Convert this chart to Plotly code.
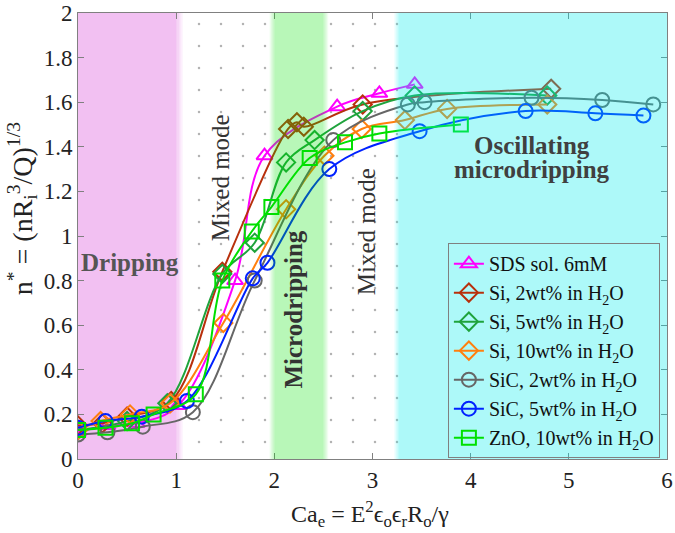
import plotly.graph_objects as go

# regime bands (Ca_e limits)
drip_x = [0.0, 1.0]
mixed1_x = [1.05, 2.0]
micro_x = [2.0, 2.5]
mixed2_x = [2.5, 3.27]
osc_x = [3.27, 6.0]

names = ["SDS sol. 6mM", "Si, 2wt% in H<sub>2</sub>O", "Si, 5wt% in H<sub>2</sub>O",
         "Si, 10wt% in H<sub>2</sub>O", "SiC, 2wt% in H<sub>2</sub>O",
         "SiC, 5wt% in H<sub>2</sub>O", "ZnO, 10wt% in H<sub>2</sub>O"]

sds_x = [0.0, 0.3, 0.6, 1.02, 1.6, 1.9, 2.64, 3.07, 3.43]
sds_y = [0.12, 0.15, 0.16, 0.24, 0.80, 1.36, 1.58, 1.64, 1.68]

si2_x = [0.0, 0.25, 0.5, 0.95, 1.47, 2.14, 2.23, 2.3, 2.9, 4.82]
si2_y = [0.15, 0.16, 0.19, 0.26, 0.84, 1.48, 1.51, 1.49, 1.59, 1.66]

si5_x = [0.0, 0.5, 0.91, 1.47, 1.8, 2.12, 2.41, 2.9, 3.43, 4.78]
si5_y = [0.13, 0.17, 0.25, 0.83, 0.97, 1.33, 1.43, 1.56, 1.63, 1.63]

si10_x = [0.0, 0.23, 0.53, 0.94, 1.48, 2.12, 2.51, 2.89, 3.33, 3.76, 4.78]
si10_y = [0.13, 0.17, 0.20, 0.25, 0.61, 1.12, 1.36, 1.48, 1.52, 1.57, 1.59]

sic2_x = [0.0, 0.3, 0.66, 1.17, 1.8, 2.6, 3.36, 3.53, 4.62, 5.34, 5.86]
sic2_y = [0.11, 0.12, 0.145, 0.21, 0.80, 1.43, 1.59, 1.60, 1.62, 1.61, 1.59]

sic5_x = [0.0, 0.28, 0.65, 1.11, 1.78, 1.93, 2.56, 3.48, 4.56, 5.27, 5.76]
sic5_y = [0.14, 0.17, 0.19, 0.26, 0.81, 0.88, 1.30, 1.47, 1.56, 1.55, 1.54]

zno_x = [0.0, 0.28, 0.55, 0.77, 1.2, 1.47, 1.77, 1.97, 2.36, 2.72, 3.07, 3.9]
zno_y = [0.13, 0.14, 0.16, 0.20, 0.29, 0.80, 1.02, 1.13, 1.35, 1.42, 1.46, 1.50]

series = [
    (sds_x, sds_y, "#ff00ff", "triangle-up-open"),
    (si2_x, si2_y, "#b8300c", "diamond-open"),
    (si5_x, si5_y, "#1fa33c", "diamond-open"),
    (si10_x, si10_y, "#ff7f0e", "diamond-open"),
    (sic2_x, sic2_y, "#666666", "circle-open"),
    (sic5_x, sic5_y, "#0022ff", "circle-open"),
    (zno_x, zno_y, "#00e000", "square-open"),
]

fig = go.Figure()

# dotted texture for the mixed-mode bands
fig.add_trace(go.Bar(
    x=[(mixed1_x[0] + mixed1_x[1]) / 2, (mixed2_x[0] + mixed2_x[1]) / 2],
    y=[2, 2], base=0,
    width=[mixed1_x[1] - mixed1_x[0], mixed2_x[1] - mixed2_x[0]],
    marker=dict(color="rgba(0,0,0,0)", line_width=0,
                pattern=dict(shape=".", fgcolor="#666666", bgcolor="rgba(0,0,0,0)",
                             size=22, solidity=0.01)),
    showlegend=False, hoverinfo="skip"))

for (xs, ys, col, sym), nm in zip(series, names):
    fig.add_trace(go.Scatter(
        x=xs, y=ys, name=nm, mode="lines+markers",
        line=dict(color=col, width=2, shape="spline", smoothing=1.0),
        marker=dict(symbol=sym, size=14, color=col, line=dict(width=2, color=col))))


def band(x0, x1, rgb, alpha, layer, edge=0.07, steps=5):
    # core rect plus soft edges
    fig.add_shape(type="rect", xref="x", yref="y", x0=x0, x1=x1, y0=0, y1=2,
                  fillcolor=f"rgba({rgb},{alpha})", line_width=0, layer=layer)
    for i in range(steps):
        a = alpha * (steps - i) / (steps + 1)
        w = edge / steps
        if x0 > 0:
            fig.add_shape(type="rect", xref="x", yref="y", x0=x0 - (i + 1) * w, x1=x0 - i * w,
                          y0=0, y1=2, fillcolor=f"rgba({rgb},{a})", line_width=0, layer=layer)
        if x1 < 6:
            fig.add_shape(type="rect", xref="x", yref="y", x0=x1 + i * w, x1=x1 + (i + 1) * w,
                          y0=0, y1=2, fillcolor=f"rgba({rgb},{a})", line_width=0, layer=layer)


band(drip_x[0], drip_x[1], "232,140,232", 0.55, "below")
band(micro_x[0], micro_x[1], "0,225,0", 0.28, "above", edge=0.05)
band(osc_x[0], osc_x[1], "0,235,235", 0.32, "above", edge=0.05)

serif = "Liberation Serif"
fig.add_annotation(x=0.53, y=0.88, text="<b>Dripping</b>", showarrow=False,
                   font=dict(family=serif, size=25, color="#555555"))
fig.add_annotation(x=1.45, y=1.26, text="Mixed mode", textangle=-90, showarrow=False,
                   font=dict(family=serif, size=25, color="#333333"))
fig.add_annotation(x=2.94, y=1.02, text="Mixed mode", textangle=-90, showarrow=False,
                   font=dict(family=serif, size=25, color="#333333"))
fig.add_annotation(x=2.2, y=0.67, text="<b>Microdripping</b>", textangle=-90, showarrow=False,
                   font=dict(family=serif, size=25, color="#333333"))
fig.add_annotation(x=4.62, y=1.408, text="<b>Oscillating</b>", showarrow=False,
                   font=dict(family=serif, size=25, color="#404040"))
fig.add_annotation(x=4.62, y=1.3, text="<b>microdripping</b>", showarrow=False,
                   font=dict(family=serif, size=25, color="#404040"))

# axis titles
fig.add_annotation(xref="paper", yref="paper", x=0.496, y=-0.123,
                   xanchor="center", yanchor="middle",
                   text="Ca<sub>e</sub> = E<sup>2</sup>ϵ<sub>o</sub>ϵ<sub>r</sub>R<sub>o</sub>/γ",
                   showarrow=False, font=dict(family=serif, size=24, color="#222222"))
fig.add_annotation(xref="paper", yref="paper", x=-0.095, y=0.56, textangle=-90,
                   xanchor="center", yanchor="middle",
                   text="n<sup>*</sup> = (nR<sub>i</sub><sup>3</sup>/Q)<sup>1/3</sup>",
                   showarrow=False, font=dict(family=serif, size=28, color="#222222"))

axis_style = dict(showline=True, mirror="ticks", linecolor="#808080", linewidth=1,
                  ticks="inside", ticklen=6, tickcolor="#808080", showgrid=False,
                  zeroline=False, automargin=False,
                  tickfont=dict(family=serif, size=23, color="#222222"))

fig.update_xaxes(range=[0, 6], dtick=1, **axis_style)
fig.update_yaxes(range=[0, 2], dtick=0.2, **axis_style)

fig.update_layout(
    width=675, height=533,
    margin=dict(l=78, r=8, t=13, b=74),
    plot_bgcolor="white", paper_bgcolor="white",
    legend=dict(x=0.628, y=0.484, xanchor="left", yanchor="top",
                bgcolor="rgba(0,0,0,0)", bordercolor="#808080", borderwidth=1,
                font=dict(family=serif, size=20, color="#111111")),
    font=dict(family=serif),
)

# drop the default 8px page margin so the figure fills the window
fig.write_html("out.html", config={"displayModeBar": False},
               post_script="document.body.style.margin='0';")
